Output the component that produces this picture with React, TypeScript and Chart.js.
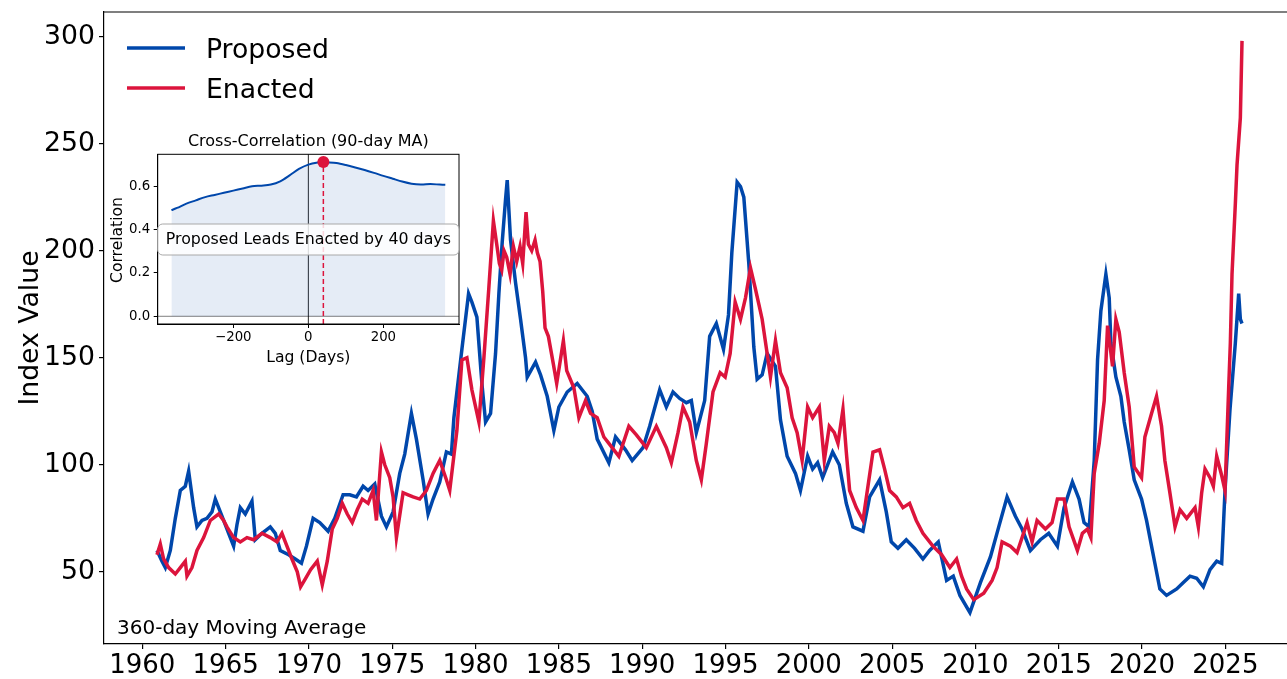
import React, { useEffect, useRef } from "react";
import { Chart, registerables } from "chart.js";

Chart.register(...registerables);

const FONT = "'DejaVu Sans', 'Liberation Sans', sans-serif";
const BLUE = "#0047AB";
const RED = "#DC143C";

// ---- main series (360-day moving average) ----
const proposedYears = [
  1960.88, 1961.18, 1961.38, 1961.68, 1961.98, 1962.28, 1962.58, 1962.78, 1963.08, 1963.28,
  1963.58, 1963.88, 1964.18, 1964.38, 1964.68, 1964.88, 1965.18, 1965.48, 1965.68, 1965.88,
  1966.18, 1966.58, 1966.78, 1967.18, 1967.68, 1967.98, 1968.28, 1968.78, 1969.18, 1969.55,
  1969.85, 1970.25, 1970.65, 1971.15, 1971.55, 1972.05, 1972.45, 1972.85, 1973.25, 1973.55,
  1973.95, 1974.35, 1974.65, 1975.05, 1975.45, 1975.75, 1976.15, 1976.45, 1976.85, 1977.15,
  1977.45, 1977.85, 1978.25, 1978.55, 1978.7, 1979.18, 1979.58, 1979.78, 1980.08, 1980.38,
  1980.6, 1980.9, 1981.2, 1981.4, 1981.6, 1981.8, 1981.9, 1982.1, 1982.4, 1982.7,
  1983.0, 1983.1, 1983.6, 1983.9, 1984.3, 1984.7, 1985.0, 1985.5, 1986.1, 1986.7,
  1987.0, 1987.3, 1988.0, 1988.4, 1989.0, 1989.4, 1990.05, 1990.45, 1991.05, 1991.45,
  1991.85, 1992.25, 1992.65, 1992.95, 1993.25, 1993.75, 1994.05, 1994.45, 1994.88, 1995.18,
  1995.38, 1995.7, 1995.9, 1996.1, 1996.4, 1996.7, 1996.9, 1997.2, 1997.5, 1998.0,
  1998.3, 1998.7, 1999.2, 1999.5, 1999.93, 2000.23, 2000.53, 2000.83, 2001.43, 2001.83,
  2002.25, 2002.65, 2003.25, 2003.65, 2004.25, 2004.65, 2004.95, 2005.35, 2005.85, 2006.35,
  2006.85, 2007.25, 2007.77, 2008.27, 2008.67, 2009.07, 2009.67, 2010.3, 2010.9, 2011.4,
  2011.9, 2012.4, 2012.8, 2013.3, 2013.9, 2014.4, 2014.92, 2015.32, 2015.82, 2016.22,
  2016.52, 2016.83, 2017.13, 2017.33, 2017.53, 2017.83, 2018.03, 2018.13, 2018.43, 2018.73,
  2018.93, 2019.23, 2019.53, 2019.97, 2020.27, 2020.57, 2020.77, 2021.07, 2021.47, 2022.08,
  2022.48, 2022.88, 2023.28, 2023.68, 2024.08, 2024.48, 2024.78, 2024.98, 2025.28, 2025.6,
  2025.8, 2025.9, 2026.0,
];
const proposedValues = [
  60, 55, 52, 60, 75, 88, 90, 97, 80, 71,
  74, 75, 78, 84, 78, 74, 68, 62, 72, 80,
  77, 83, 65, 68, 71, 68, 60, 58, 56, 54,
  62, 75, 73, 69, 75, 86, 86, 85, 90, 88,
  91, 76, 71, 78, 96, 105, 124, 112, 93, 77,
  84, 92, 106, 105, 122, 154, 180, 176, 169, 138,
  120, 124, 152, 180, 204, 224, 233, 205, 185, 168,
  150, 141, 148, 142, 132, 116, 127, 134, 138, 132,
  125, 112, 101, 113, 107, 102, 108, 118, 135, 127,
  134, 131, 129, 130, 115, 130, 160, 166, 154, 170,
  199, 232, 230, 225, 194, 155, 140, 142, 152, 146,
  121, 104, 96, 88, 104, 98, 101, 94, 106, 100,
  82, 71, 69, 85, 93, 78, 64, 61, 65, 61,
  56, 60, 64, 46, 48, 39, 31, 45, 57, 71,
  85, 76, 70, 60, 65, 68, 62, 80, 92, 84,
  73, 71, 102, 149, 172, 189, 178, 157, 141, 132,
  120, 107, 93, 84, 74, 62, 54, 42, 39, 42,
  45, 48, 47, 43, 51, 55, 54, 88, 126, 157,
  180, 168, 166,
];

const enactedYears = [
  1960.88, 1961.08, 1961.28, 1961.58, 1961.98, 1962.28, 1962.58, 1962.68, 1962.98, 1963.28,
  1963.68, 1964.08, 1964.58, 1964.88, 1965.08, 1965.48, 1965.88, 1966.28, 1966.68, 1967.18,
  1967.68, 1968.08, 1968.38, 1968.68, 1968.98, 1969.3, 1969.5, 1969.8, 1970.1, 1970.5,
  1970.8, 1971.1, 1971.4, 1971.7, 1972.0, 1972.3, 1972.6, 1972.9, 1973.2, 1973.55,
  1973.85, 1974.05, 1974.35, 1974.55, 1974.85, 1975.05, 1975.25, 1975.65, 1975.95, 1976.25,
  1976.65, 1977.05, 1977.45, 1977.85, 1978.25, 1978.45, 1978.88, 1979.18, 1979.48, 1979.78,
  1980.2, 1980.5, 1980.8, 1981.07, 1981.27, 1981.43, 1981.57, 1981.71, 1981.87, 1982.07,
  1982.27, 1982.47, 1982.67, 1982.83, 1983.03, 1983.17, 1983.37, 1983.57, 1983.71, 1983.87,
  1984.03, 1984.17, 1984.37, 1984.67, 1984.87, 1985.27, 1985.47,
  1985.9, 1986.2, 1986.6, 1986.9, 1987.3, 1987.7, 1988.0, 1988.6, 1989.2, 1989.65,
  1990.25, 1990.85, 1991.45, 1991.75, 1992.15, 1992.45, 1992.85, 1993.25, 1993.55, 1993.85,
  1994.25, 1994.68, 1994.98, 1995.28, 1995.58, 1995.9, 1996.2, 1996.5, 1996.8, 1997.0,
  1997.2, 1997.5, 1997.7, 1998.0, 1998.3, 1998.7, 1999.0, 1999.3, 1999.6, 1999.93,
  2000.23, 2000.63, 2000.93, 2001.23, 2001.53, 2001.75, 2002.05, 2002.25, 2002.45, 2002.85,
  2003.25, 2003.55, 2003.85, 2004.25, 2004.55, 2004.85, 2005.25, 2005.65, 2006.05, 2006.45,
  2006.85, 2007.45, 2007.97, 2008.47, 2008.87, 2009.17, 2009.47, 2009.9, 2010.5, 2011.0,
  2011.3, 2011.6, 2012.1, 2012.5, 2013.1, 2013.4, 2013.7, 2014.2, 2014.6, 2014.92,
  2015.32, 2015.62, 2016.12, 2016.42, 2016.72, 2016.93, 2017.13, 2017.43, 2017.73, 2017.93,
  2018.23, 2018.43, 2018.63, 2018.93, 2019.23, 2019.53, 2019.97, 2020.17, 2020.57, 2020.87,
  2021.17, 2021.37, 2021.67, 2021.98, 2022.28, 2022.68, 2023.18, 2023.38, 2023.58, 2023.78,
  2024.08, 2024.28, 2024.48, 2024.78, 2024.98, 2025.2, 2025.3, 2025.4, 2025.6, 2025.7,
  2025.9, 2026.0,
];
const enactedValues = [
  58, 63, 56, 52, 49, 52, 55, 48, 52, 60,
  66, 74, 77, 74, 71, 66, 64, 66, 65, 68,
  66, 64, 68, 62, 56, 50, 43, 47, 51, 55,
  44, 55, 70, 75, 82, 77, 73, 79, 84, 82,
  88, 74, 106, 100, 94, 85, 66, 87, 86, 85,
  84, 88, 96, 102, 93, 88, 116, 149, 150, 135,
  120, 150, 183, 214, 203, 194, 191, 200, 197, 189,
  202, 195, 202, 194, 218, 203, 200, 205, 199, 195,
  181, 164, 160, 147, 138, 158, 144,
  136, 122, 130, 124, 122, 113, 110, 104, 118, 114,
  108, 118, 108, 101, 115, 127, 120, 102, 93, 110,
  134, 143, 141, 152, 176, 168, 178, 192, 182, 175,
  168, 152, 141, 158, 143, 136, 122, 115, 102, 127,
  122, 127, 102, 118, 115, 110, 126, 106, 88, 80,
  74, 90, 106, 107, 98, 88, 85, 80, 82, 74,
  68, 62, 58, 52, 56, 48, 42, 37, 40, 46,
  52, 64, 62, 59, 73, 64, 74, 70, 73, 84,
  84, 71, 60, 68, 70, 66, 96, 110, 130, 165,
  146, 168, 162, 143, 127, 99, 94, 113, 124, 132,
  118, 102, 87, 71, 79, 75, 80, 71, 87, 98,
  94, 90, 104, 95, 88, 136, 157, 189, 222, 240,
  262, 298,
];

const xTickYears = [1960, 1965, 1970, 1975, 1980, 1985, 1990, 1995, 2000, 2005, 2010, 2015, 2020, 2025];
const yTickValues = [50, 100, 150, 200, 250, 300];

// ---- inset: cross-correlation ----
const lagDays = [
  -365, -350, -325, -300, -275, -250, -225, -200, -175, -150, -125, -100, -75, -50, -25, 0,
  25, 40, 50, 75, 100, 125, 150, 175, 200, 225, 250, 275, 300, 325, 350, 365,
];
const correlation = [
  0.49, 0.5, 0.52, 0.535, 0.55, 0.56, 0.57, 0.58, 0.59, 0.6, 0.603, 0.608, 0.623, 0.65, 0.68, 0.7,
  0.71, 0.712, 0.711, 0.707, 0.698, 0.687, 0.675, 0.662, 0.648, 0.635, 0.622, 0.612, 0.608, 0.61, 0.608, 0.607,
];
const peakLag = 40;
const peakCorr = 0.712;
const lagTicks = [-200, 0, 200];
const corrTicks = [0, 0.2, 0.4, 0.6];

function MainChart() {
  const ref = useRef<HTMLCanvasElement>(null);
  useEffect(() => {
    const canvas = ref.current!;
    const overlay = {
      id: "mainOverlay",
      afterDraw(chart: any) {
        const ctx = chart.ctx as CanvasRenderingContext2D;
        const a = chart.chartArea;
        ctx.save();
        ctx.strokeStyle = "#000";
        ctx.lineWidth = 1.2;
        ctx.beginPath();
        ctx.moveTo(a.left, a.top);
        ctx.lineTo(a.right, a.top);
        ctx.stroke();
        const items = [
          { label: "Proposed", color: BLUE, y: 48 },
          { label: "Enacted", color: RED, y: 88 },
        ];
        ctx.font = `26.7px ${FONT}`;
        ctx.textBaseline = "alphabetic";
        ctx.textAlign = "left";
        for (const it of items) {
          ctx.strokeStyle = it.color;
          ctx.lineWidth = 3.5;
          ctx.beginPath();
          ctx.moveTo(127, it.y);
          ctx.lineTo(185, it.y);
          ctx.stroke();
          ctx.fillStyle = "#000";
          ctx.fillText(it.label, 206, it.y + 9.5);
        }
        ctx.font = `20px ${FONT}`;
        ctx.fillText("360-day Moving Average", 117, 634);
        ctx.save();
        ctx.translate(37.5, 328);
        ctx.rotate(-Math.PI / 2);
        ctx.font = `26.7px ${FONT}`;
        ctx.textAlign = "center";
        ctx.fillText("Index Value", 0, 0);
        ctx.restore();
        ctx.restore();
      },
    };
    const chart = new Chart(canvas, {
      type: "line",
      data: {
        datasets: [
          {
            label: "Proposed",
            data: proposedYears.map((x, i) => ({ x, y: proposedValues[i] })),
            borderColor: BLUE,
            borderWidth: 3.5,
            pointRadius: 0,
            tension: 0,
            fill: false,
            order: 1,
          },
          {
            label: "Enacted",
            data: enactedYears.map((x, i) => ({ x, y: enactedValues[i] })),
            borderColor: RED,
            borderWidth: 3.5,
            pointRadius: 0,
            tension: 0,
            fill: false,
            order: 0,
          },
        ],
      },
      options: {
        animation: false,
        responsive: false,
        maintainAspectRatio: false,
        events: [],
        layout: { padding: { top: 12, left: 0, right: 0, bottom: 0 } },
        plugins: { legend: { display: false }, tooltip: { enabled: false } },
        scales: {
          x: {
            type: "linear",
            min: 1957.7,
            max: 2028.7,
            afterBuildTicks: (s: any) => {
              s.ticks = xTickYears.map((v) => ({ value: v }));
            },
            afterFit: (s: any) => {
              s.height = 35;
              s.paddingLeft = 0;
              s.paddingRight = 0;
            },
            ticks: {
              font: { family: FONT, size: 26 },
              color: "#000",
              padding: 2,
              maxRotation: 0,
              autoSkip: false,
              callback: (v: any) => String(v),
            },
            grid: { drawOnChartArea: false, drawTicks: true, tickLength: 5, color: "#000", lineWidth: 1.2 },
            border: { display: true, color: "#000", width: 1.2 },
          },
          y: {
            type: "linear",
            min: 16.3,
            max: 311.5,
            afterBuildTicks: (s: any) => {
              s.ticks = yTickValues.map((v) => ({ value: v }));
            },
            afterFit: (s: any) => {
              s.width = 104;
              s.paddingTop = 0;
              s.paddingBottom = 0;
            },
            ticks: {
              font: { family: FONT, size: 26.7 },
              color: "#000",
              padding: 4,
              autoSkip: false,
              callback: (v: any) => String(v),
            },
            grid: { drawOnChartArea: false, drawTicks: true, tickLength: 5, color: "#000", lineWidth: 1.2 },
            border: { display: true, color: "#000", width: 1.2 },
          },
        },
      },
      plugins: [overlay],
    } as any);
    return () => chart.destroy();
  }, []);
  return (
    <canvas ref={ref} width={1287} height={679} style={{ position: "absolute", left: 0, top: 0 }} />
  );
}

function InsetChart() {
  const ref = useRef<HTMLCanvasElement>(null);
  const LEFT = 100;
  const TOP = 125;
  useEffect(() => {
    const canvas = ref.current!;
    const insetPlugin = {
      id: "insetOverlay",
      beforeDraw(chart: any) {
        const ctx = chart.ctx as CanvasRenderingContext2D;
        const a = chart.chartArea;
        ctx.save();
        ctx.fillStyle = "#fff";
        ctx.fillRect(a.left, a.top, a.right - a.left, a.bottom - a.top);
        ctx.restore();
      },
      beforeDatasetsDraw(chart: any) {
        const ctx = chart.ctx as CanvasRenderingContext2D;
        const a = chart.chartArea;
        const x0 = chart.scales.x.getPixelForValue(0);
        const y0 = chart.scales.y.getPixelForValue(0);
        ctx.save();
        ctx.lineWidth = 1;
        ctx.strokeStyle = "rgba(0,0,0,0.5)";
        ctx.beginPath();
        ctx.moveTo(a.left, y0);
        ctx.lineTo(a.right, y0);
        ctx.stroke();
        ctx.strokeStyle = "rgba(0,0,0,0.85)";
        ctx.beginPath();
        ctx.moveTo(x0, a.top);
        ctx.lineTo(x0, a.bottom);
        ctx.stroke();
        ctx.restore();
      },
      afterDraw(chart: any) {
        const ctx = chart.ctx as CanvasRenderingContext2D;
        const a = chart.chartArea;
        ctx.save();
        ctx.strokeStyle = "#000";
        ctx.lineWidth = 1;
        ctx.strokeRect(a.left, a.top, a.right - a.left, a.bottom - a.top);
        const cx = (a.left + a.right) / 2;
        ctx.fillStyle = "#000";
        ctx.textAlign = "center";
        ctx.textBaseline = "alphabetic";
        ctx.font = `16px ${FONT}`;
        ctx.fillText("Cross-Correlation (90-day MA)", cx, 146 - TOP);
        ctx.font = `15.6px ${FONT}`;
        ctx.fillText("Lag (Days)", cx, 361.5 - TOP);
        ctx.save();
        ctx.translate(121.5 - LEFT, 240 - TOP);
        ctx.rotate(-Math.PI / 2);
        ctx.fillText("Correlation", 0, 0);
        ctx.restore();
        const bx = 157.7 - LEFT;
        const by = 224 - TOP;
        const bw = 301.3;
        const bh = 31;
        ctx.beginPath();
        (ctx as any).roundRect(bx, by, bw, bh, 5);
        ctx.fillStyle = "rgba(255,255,255,0.82)";
        ctx.fill();
        ctx.strokeStyle = "#a8a8a8";
        ctx.lineWidth = 1;
        ctx.stroke();
        ctx.fillStyle = "#000";
        ctx.font = `15.8px ${FONT}`;
        ctx.textBaseline = "middle";
        ctx.fillText("Proposed Leads Enacted by 40 days", bx + bw / 2, by + bh / 2 + 0.5);
        ctx.restore();
      },
    };
    const chart = new Chart(canvas, {
      type: "line",
      data: {
        datasets: [
          {
            label: "peak",
            data: [{ x: peakLag, y: peakCorr }],
            showLine: false,
            pointRadius: 6,
            pointBackgroundColor: RED,
            pointBorderColor: RED,
            pointBorderWidth: 0,
            order: 0,
          },
          {
            label: "peakline",
            data: [
              { x: peakLag, y: -0.0356 },
              { x: peakLag, y: peakCorr },
            ],
            borderColor: RED,
            borderWidth: 1.5,
            borderDash: [5, 3],
            pointRadius: 0,
            fill: false,
            order: 1,
          },
          {
            label: "corr",
            data: lagDays.map((x, i) => ({ x, y: correlation[i] })),
            borderColor: BLUE,
            borderWidth: 2,
            pointRadius: 0,
            tension: 0.3,
            fill: "origin",
            backgroundColor: "rgba(0,71,171,0.1)",
            order: 2,
          },
        ],
      },
      options: {
        animation: false,
        responsive: false,
        maintainAspectRatio: false,
        events: [],
        layout: { padding: { top: 154.3 - TOP, right: 470 - 459, left: 0, bottom: 0 } },
        plugins: { legend: { display: false }, tooltip: { enabled: false } },
        scales: {
          x: {
            type: "linear",
            min: -401.5,
            max: 401.5,
            afterBuildTicks: (s: any) => {
              s.ticks = lagTicks.map((v) => ({ value: v }));
            },
            afterFit: (s: any) => {
              s.height = TOP + 245 - 324;
              s.paddingLeft = 0;
              s.paddingRight = 0;
            },
            ticks: {
              font: { family: FONT, size: 13.3 },
              color: "#000",
              padding: 2,
              maxRotation: 0,
              autoSkip: false,
              callback: (v: any) => (v < 0 ? "\u2212" + Math.abs(v) : String(v)),
            },
            grid: { drawOnChartArea: false, drawTicks: true, tickLength: 4, color: "#000", lineWidth: 1 },
            border: { display: true, color: "#000", width: 1 },
          },
          y: {
            type: "linear",
            min: -0.0356,
            max: 0.7476,
            afterBuildTicks: (s: any) => {
              s.ticks = corrTicks.map((v) => ({ value: v }));
            },
            afterFit: (s: any) => {
              s.width = 157.7 - LEFT;
              s.paddingTop = 0;
              s.paddingBottom = 0;
            },
            ticks: {
              font: { family: FONT, size: 13.3 },
              color: "#000",
              padding: 3.5,
              autoSkip: false,
              callback: (v: any) => Number(v).toFixed(1),
            },
            grid: { drawOnChartArea: false, drawTicks: true, tickLength: 4, color: "#000", lineWidth: 1 },
            border: { display: true, color: "#000", width: 1 },
          },
        },
      },
      plugins: [insetPlugin],
    } as any);
    return () => chart.destroy();
  }, []);
  return (
    <canvas ref={ref} width={370} height={245} style={{ position: "absolute", left: LEFT, top: TOP }} />
  );
}

export default function App() {
  return (
    <div style={{ position: "fixed", left: 0, top: 0, width: 1287, height: 679, background: "#fff", overflow: "hidden" }}>
      <MainChart />
      <InsetChart />
    </div>
  );
}
